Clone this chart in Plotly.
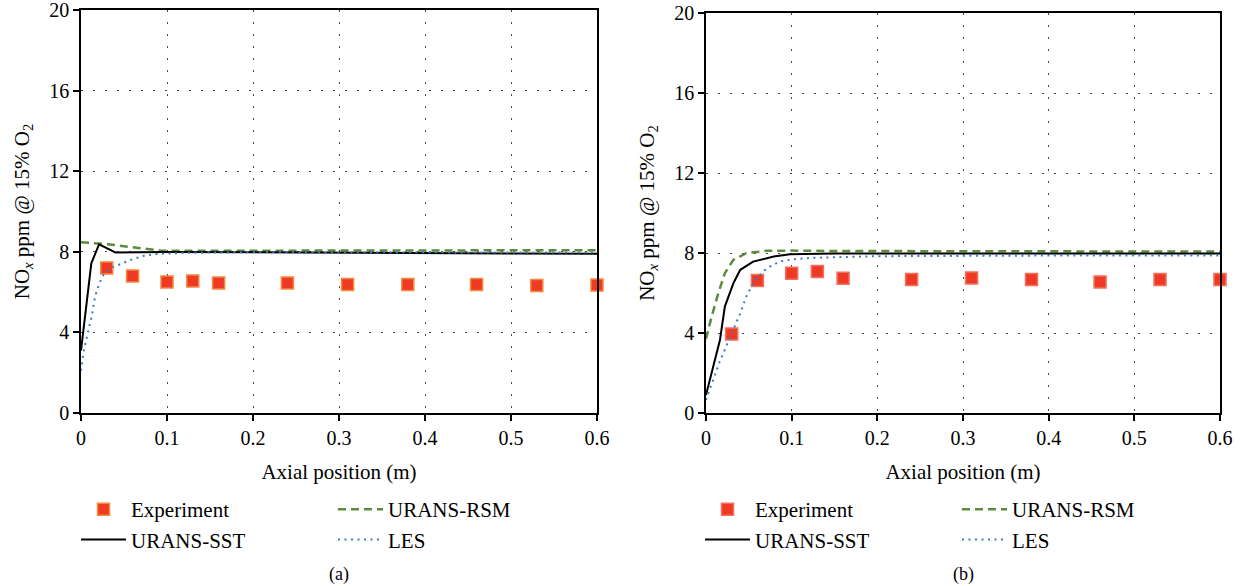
import plotly.graph_objects as go

# ---------------- data ----------------
# Experimental NOx measurements (ppm @ 15% O2) along the axis
exp_x = [0.03, 0.06, 0.10, 0.13, 0.16, 0.24, 0.31, 0.38, 0.46, 0.53, 0.60]
exp_a = [7.2, 6.8, 6.5, 6.55, 6.45, 6.45, 6.38, 6.38, 6.38, 6.33, 6.35]
exp_b = [3.95, 6.62, 6.99, 7.07, 6.74, 6.67, 6.75, 6.67, 6.55, 6.67, 6.67]

# Case (a) simulations
sst_a_x = [0, 0.012, 0.021, 0.04, 0.1, 0.2, 0.3, 0.4, 0.5, 0.6]
sst_a_y = [3.1, 7.43, 8.37, 7.97, 7.99, 7.98, 7.96, 7.94, 7.92, 7.9]
rsm_a_x = [0, 0.034, 0.069, 0.092, 0.12, 0.2, 0.3, 0.4, 0.5, 0.6]
rsm_a_y = [8.48, 8.36, 8.18, 8.06, 8.05, 8.06, 8.06, 8.07, 8.07, 8.08]
les_a_x = [0, 0.0027, 0.0073, 0.0124, 0.0163, 0.0213, 0.026, 0.0337, 0.043,
           0.057, 0.072, 0.088, 0.12, 0.2, 0.3, 0.4, 0.5, 0.6]
les_a_y = [2.1, 2.96, 3.87, 4.78, 5.77, 6.44, 6.85, 7.18, 7.34,
           7.59, 7.79, 7.89, 7.95, 7.98, 7.98, 7.97, 7.97, 7.96]

# Case (b) simulations
sst_b_x = [0, 0.0085, 0.0163, 0.022, 0.032, 0.04, 0.055, 0.079, 0.098, 0.15, 0.3, 0.45, 0.6]
sst_b_y = [0.9, 2.32, 3.65, 5.32, 6.49, 7.16, 7.57, 7.82, 7.94, 7.98, 7.98, 7.97, 7.97]
rsm_b_x = [0, 0.0066, 0.0144, 0.022, 0.032, 0.047, 0.071, 0.098, 0.15, 0.3, 0.45, 0.6]
rsm_b_y = [3.7, 4.82, 5.99, 6.99, 7.66, 7.99, 8.11, 8.12, 8.1, 8.08, 8.08, 8.08]
les_b_x = [0, 0.003, 0.0105, 0.016, 0.024, 0.032, 0.04, 0.047, 0.057, 0.071,
           0.086, 0.102, 0.125, 0.2, 0.3, 0.45, 0.6]
les_b_y = [0.65, 0.98, 1.9, 2.57, 3.4, 4.15, 4.99, 5.82, 6.66, 7.24,
           7.57, 7.69, 7.76, 7.84, 7.87, 7.88, 7.88]

x_ticks = [0, 0.1, 0.2, 0.3, 0.4, 0.5, 0.6]
x_tick_text = ["0", "0.1", "0.2", "0.3", "0.4", "0.5", "0.6"]
y_ticks = [0, 4, 8, 12, 16, 20]
y_tick_text = ["0", "4", "8", "12", "16", "20"]

# ---------------- styling ----------------
FONT = "Liberation Serif"
FS = 20      # tick labels
FS_T = 21    # axis titles and legend entries
RED = "#EE3A24"
GREEN = "#5B8C3E"
BLUE = "#3A7DC4"

W, H = 1245, 586

fig = go.Figure()


def add_panel(xa, ya, exp_y, exp_line, sst, rsm, les, leg_l, leg_r):
    fig.add_trace(go.Scatter(
        x=exp_x, y=exp_y, mode="markers", name="Experiment",
        marker=dict(symbol="square", size=12, color=RED,
                    line=dict(color=exp_line, width=1.5)),
        xaxis=xa, yaxis=ya, legend=leg_l, cliponaxis=False))
    fig.add_trace(go.Scatter(
        x=rsm[0], y=rsm[1], mode="lines", name="URANS-RSM",
        line=dict(color=GREEN, width=2.5, dash="8px,5px"),
        xaxis=xa, yaxis=ya, legend=leg_r))
    fig.add_trace(go.Scatter(
        x=sst[0], y=sst[1], mode="lines", name="URANS-SST",
        line=dict(color="black", width=2),
        xaxis=xa, yaxis=ya, legend=leg_l))
    fig.add_trace(go.Scatter(
        x=les[0], y=les[1], mode="lines", name="LES",
        line=dict(color=BLUE, width=2, dash="2px,4.5px"),
        xaxis=xa, yaxis=ya, legend=leg_r))


add_panel("x", "y", exp_a, "#F5883A", (sst_a_x, sst_a_y), (rsm_a_x, rsm_a_y),
          (les_a_x, les_a_y), "legend", "legend2")
add_panel("x2", "y2", exp_b, "#F3705F", (sst_b_x, sst_b_y), (rsm_b_x, rsm_b_y),
          (les_b_x, les_b_y), "legend3", "legend4")

xaxis_common = dict(
    range=[0, 0.6], tickvals=x_ticks, ticktext=x_tick_text,
    showline=True, linecolor="black", linewidth=1.5, mirror=True,
    ticks="outside", ticklen=6, tickwidth=1.5, tickcolor="black",
    showgrid=True, gridcolor="#444", gridwidth=1.2, griddash="2px,10px",
    zeroline=False, automargin=False, ticklabeloverflow="allow",
    tickfont=dict(family=FONT, size=FS, color="black"),
    title=dict(text="Axial position (m)", font=dict(family=FONT, size=FS_T, color="black"),
               standoff=17),
)
yaxis_common = dict(
    range=[0, 20], tickvals=y_ticks, ticktext=y_tick_text,
    showline=True, linecolor="black", linewidth=1.5, mirror=True,
    ticks="outside", ticklen=6, tickwidth=1.5, tickcolor="black",
    showgrid=True, gridcolor="#444", gridwidth=1.2, griddash="2px,10px",
    zeroline=False, automargin=False, ticklabeloverflow="allow",
    tickfont=dict(family=FONT, size=FS, color="black"),
    title=dict(text="NO<sub><i>x</i></sub> ppm @ 15% O<sub>2</sub>",
               font=dict(family=FONT, size=FS_T, color="black"), standoff=14),
)

legend_common = dict(
    orientation="v", xanchor="left", yanchor="top",
    font=dict(family=FONT, size=FS_T, color="black"),
    bgcolor="rgba(0,0,0,0)", borderwidth=0, itemwidth=45,
    tracegroupgap=0, itemclick=False, itemdoubleclick=False,
)

fig.update_layout(
    width=W, height=H,
    margin=dict(l=0, r=0, t=0, b=0, autoexpand=False),
    paper_bgcolor="white", plot_bgcolor="white",
    showlegend=True,
    xaxis=dict(domain=[81 / W, 597 / W], anchor="y", **xaxis_common),
    yaxis=dict(domain=[1 - 413 / H, 1 - 10 / H], anchor="x", **yaxis_common),
    xaxis2=dict(domain=[706 / W, 1220 / W], anchor="y2", **xaxis_common),
    yaxis2=dict(domain=[1 - 413 / H, 1 - 13 / H], anchor="x2", **yaxis_common),
    legend=dict(x=76 / W, y=1 - 489 / H, **legend_common),
    legend2=dict(x=333 / W, y=1 - 489 / H, **legend_common),
    legend3=dict(x=700 / W, y=1 - 489 / H, **legend_common),
    legend4=dict(x=957 / W, y=1 - 489 / H, **legend_common),
    annotations=[
        dict(text="(a)", x=339 / W, y=1 - 574 / H, xref="paper", yref="paper",
             xanchor="center", yanchor="middle", showarrow=False,
             font=dict(family=FONT, size=18, color="black")),
        dict(text="(b)", x=963 / W, y=1 - 574 / H, xref="paper", yref="paper",
             xanchor="center", yanchor="middle", showarrow=False,
             font=dict(family=FONT, size=18, color="black")),
    ],
)

fig.write_html("out.html")
